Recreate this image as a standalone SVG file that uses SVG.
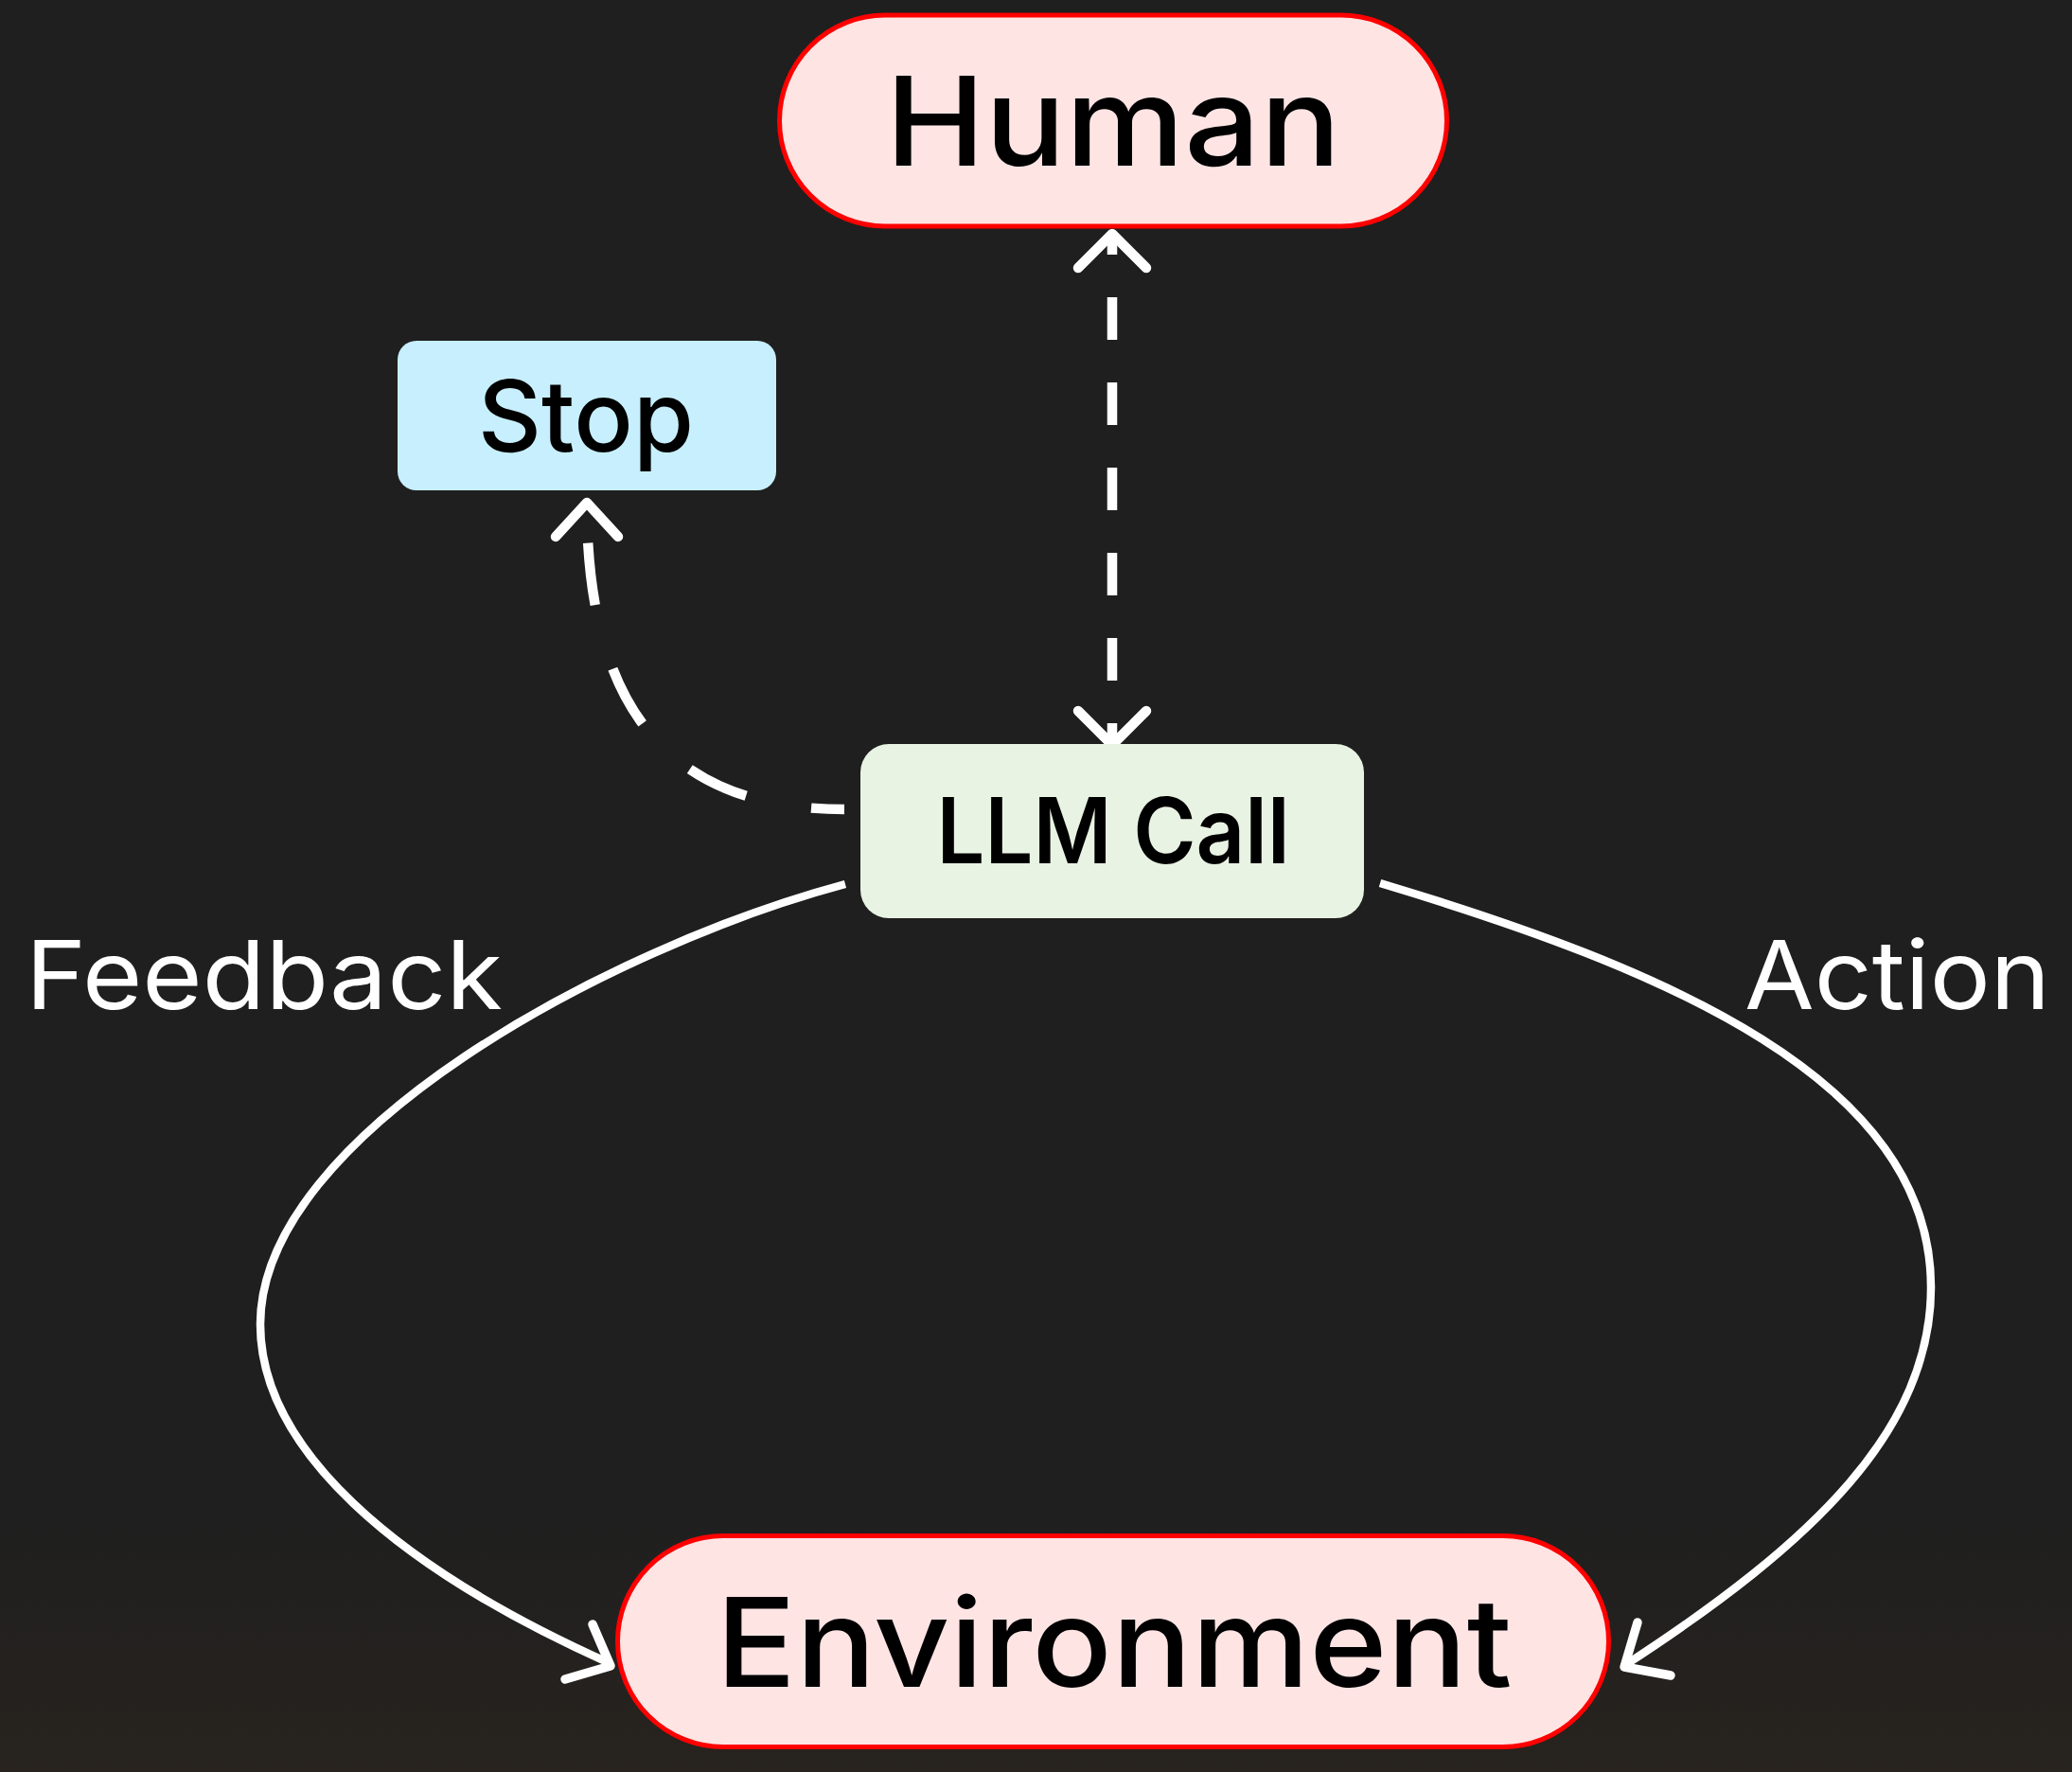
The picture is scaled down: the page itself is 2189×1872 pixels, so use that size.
<svg xmlns="http://www.w3.org/2000/svg" width="2189" height="1872" viewBox="0 0 2189 1872">
  <defs>
    <linearGradient id="bgShade" x1="0" y1="0" x2="0" y2="1">
      <stop offset="0" stop-color="#2a241e" stop-opacity="0"/>
      <stop offset="1" stop-color="#2a241e" stop-opacity="0.8"/>
    </linearGradient>
    <style>
      .pill { fill: #ffe4e4; stroke: #ff0000; stroke-width: 5; }
      .stop { fill: #c7effe; }
      .llm { fill: #e8f3e3; }
      .dark { fill: #000000; font-family: Inter, "Open Sans", "Liberation Sans", sans-serif; }
      .lbl { fill: #ffffff; font-family: Inter, "Open Sans", "Liberation Sans", sans-serif; font-weight: 400; font-size: 101px; }
      .solid { fill: none; stroke: #ffffff; stroke-width: 8.5; stroke-linecap: butt; stroke-linejoin: round; }
      .dash { fill: none; stroke: #ffffff; stroke-width: 10.5; stroke-linecap: butt; }
      .head { fill: none; stroke: #ffffff; stroke-linecap: round; stroke-linejoin: round; }
    </style>
  </defs>
  <rect x="0" y="0" width="2189" height="1872" fill="#1f1f1f"/>
  <rect x="0" y="1600" width="2189" height="272" fill="url(#bgShade)"/>

  <g id="connectors">
    <!-- Human <-> LLM Call -->
    <line class="dash" x1="1175" y1="247" x2="1175" y2="787" stroke-dasharray="45 45" stroke-dashoffset="23"/>
    <polyline class="head" stroke-width="10.5" points="1139,283 1175,247 1211,283"/>
    <polyline class="head" stroke-width="10.5" points="1139,751 1175,787 1211,751"/>
    <!-- LLM Call -> Stop -->
    <path class="dash" d="M 892 855 C 700 855, 620 740, 620 531" stroke-dasharray="66 70" stroke-dashoffset="31"/>
    <polyline class="head" stroke-width="10.5" points="587,567 620,531 653,567"/>
    <!-- Feedback -->
    <path class="solid" d="M 893 934 C 643 1001, 275 1199, 275 1399 C 275 1529, 414 1654, 644 1757"/>
    <polyline class="head" stroke-width="9.5" points="626,1716 645,1760 597,1774"/>
    <!-- Action -->
    <path class="solid" d="M 1458 933 C 1758 1023, 2040 1140, 2040 1360 C 2040 1510, 1917 1629, 1717 1759"/>
    <polyline class="head" stroke-width="9.5" points="1730,1714 1716,1761 1765,1770"/>
  </g>

  <g id="label-feedback">
    <text class="lbl" x="27" y="1066" textLength="504" lengthAdjust="spacingAndGlyphs">Feedback</text>
  </g>
  <g id="label-action">
    <text class="lbl" x="1843" y="1066" textLength="323" lengthAdjust="spacingAndGlyphs">Action</text>
  </g>

  <g id="node-human">
    <rect class="pill" x="823.5" y="16" width="705" height="223" rx="111.5"/>
    <text class="dark" x="1176" y="175" font-size="130" font-weight="500" text-anchor="middle" textLength="481" lengthAdjust="spacingAndGlyphs">Human</text>
  </g>

  <g id="node-stop">
    <rect class="stop" x="420" y="360" width="400" height="158" rx="20"/>
    <text class="dark" x="619" y="477" font-size="104" font-weight="500" text-anchor="middle" textLength="228" lengthAdjust="spacingAndGlyphs">Stop</text>
  </g>

  <g id="node-llm">
    <rect class="llm" x="909" y="786" width="532" height="184" rx="30"/>
    <text class="dark" x="1176" y="912" font-size="96" font-weight="600" text-anchor="middle" textLength="373" lengthAdjust="spacingAndGlyphs">LLM Call</text>
  </g>

  <g id="node-environment">
    <rect class="pill" x="652.5" y="1622.5" width="1047" height="223" rx="111.5"/>
    <text class="dark" x="1177" y="1782" font-size="130" font-weight="500" text-anchor="middle" textLength="841" lengthAdjust="spacingAndGlyphs">Environment</text>
  </g>
</svg>
